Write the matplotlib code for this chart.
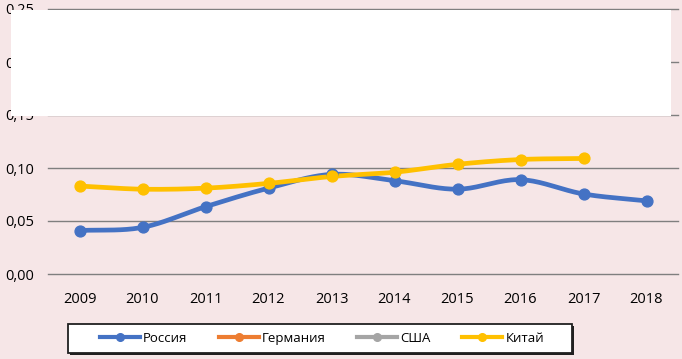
import numpy as np
import matplotlib
matplotlib.use("Agg")
import matplotlib.pyplot as plt
from matplotlib.patches import Rectangle
from matplotlib.ticker import FuncFormatter

years = ["2009", "2010", "2011", "2012", "2013", "2014", "2015", "2016", "2017", "2018"]
russia = [0.041, 0.044, 0.0635, 0.081, 0.094, 0.088, 0.080, 0.089, 0.0755, 0.069]
germany = []
usa = []
china = [0.083, 0.080, 0.081, 0.0855, 0.092, 0.096, 0.1035, 0.108, 0.109]
yticks = [0.00, 0.05, 0.10, 0.15, 0.20, 0.25]

plt.rcParams['font.family'] = ['Open Sans', 'DejaVu Sans']

BG = "#F6E6E7"

def smooth(x, y, n=20):
    x = np.asarray(x, float); y = np.asarray(y, float)
    if len(x) < 3:
        return x, y
    px = np.concatenate([[2*x[0]-x[1]], x, [2*x[-1]-x[-2]]])
    py = np.concatenate([[2*y[0]-y[1]], y, [2*y[-1]-y[-2]]])
    xs, ys = [], []
    for i in range(1, len(px)-2):
        t = np.linspace(0, 1, n, endpoint=False)
        for P, out in ((px, xs), (py, ys)):
            p0, p1, p2, p3 = P[i-1], P[i], P[i+1], P[i+2]
            out.append(0.5*((2*p1) + (-p0+p2)*t + (2*p0-5*p1+4*p2-p3)*t**2 + (-p0+3*p1-3*p2+p3)*t**3))
    xs.append([x[-1]]); ys.append([y[-1]])
    return np.concatenate(xs), np.concatenate(ys)

fig = plt.figure(figsize=(6.82, 3.59), dpi=100)
fig.patch.set_facecolor(BG)
ax = fig.add_axes([48/682, 1-274/359, 630/682, 265/359])
ax.set_facecolor(BG)

series = [("Россия", russia, "#4472C4"), ("Германия", germany, "#ED7D31"),
          ("США", usa, "#A5A5A5"), ("Китай", china, "#FFC000")]
xpos = np.arange(len(years))
handles = []
for name, vals, col in series:
    xi = xpos[:len(vals)]
    if len(vals):
        sx, sy = smooth(xi, vals)
        ax.plot(sx, sy, color=col, lw=3.4, solid_capstyle='round', zorder=3)
    ax.plot(xi, vals, color=col, marker='o', markersize=7.8, linestyle='none', zorder=4)
    handles.append(plt.Line2D([], [], color=col, lw=3.0, marker='o', markersize=5.5, label=name))

ax.set_xlim(-0.5, len(years)-0.5)
ax.set_ylim(0, 0.25)
ax.set_xticks(xpos)
ax.set_xticklabels(years, fontsize=10.5)
ax.set_yticks(yticks)
ax.yaxis.set_major_formatter(FuncFormatter(lambda v, p: f"{v:.2f}".replace(".", ",")))
ax.tick_params(length=0, labelsize=10.5, pad=10)
ax.tick_params(axis='x', pad=13)
ax.grid(axis='y', color='#7F7F7F', lw=1)
for gl in ax.get_ygridlines():
    gl.set_clip_on(False)
ax.set_axisbelow(True)
for s in ax.spines.values():
    s.set_visible(False)

# legend box with drop shadow
fig.add_artist(Rectangle((70/682, 1-355/359), 504/682, 29/359, transform=fig.transFigure,
                         facecolor='#202020', edgecolor='none', zorder=5))
fig.add_artist(Rectangle((68/682, 1-353/359), 504/682, 29/359, transform=fig.transFigure,
                         facecolor='white', edgecolor='#202020', lw=1.3, zorder=6))

leg = fig.legend(handles=handles, loc='center', bbox_to_anchor=(322/682, 1-338.5/359), ncol=4,
                 frameon=False, fontsize=9.5, handlelength=3.0, columnspacing=2.4,
                 handletextpad=0.25, borderpad=0.2, borderaxespad=0)
leg.set_zorder(7)

fig.add_artist(Rectangle((11/682, 1-116/359), 660/682, 106/359, transform=fig.transFigure,
                         facecolor='white', edgecolor='none', zorder=10))

fig.savefig("out.png", dpi=100, facecolor=BG)
